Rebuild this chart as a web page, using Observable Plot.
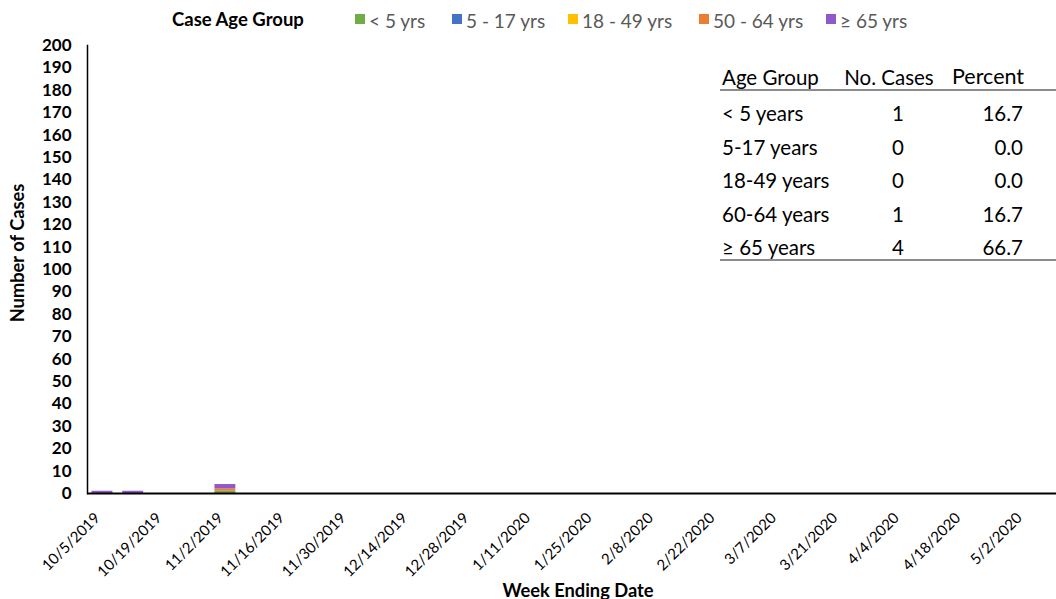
<!DOCTYPE html>
<html>
<head>
<meta charset="utf-8">
<script src="https://cdn.jsdelivr.net/npm/d3@7"></script>
<script src="https://cdn.jsdelivr.net/npm/@observablehq/plot@0.6"></script>
<style>
  html, body { margin: 0; padding: 0; background: #fff; }
  body { font-family: Lato, "Open Sans", sans-serif; width: 1056px; height: 599px; overflow: hidden; position: relative; }
  #legend { height: 30px; position: relative; }
  .abs { position: absolute; white-space: nowrap; }
  .mid { transform: translateY(-50%); line-height: 1; }
  .lg-title { font-weight: bold; font-size: 18.5px; color: #000; }
  .lg-item { font-size: 19px; color: #595959; }
  .sw { position: absolute; width: 10px; height: 10px; transform: translateY(-50%); }
  #tbl { position: absolute; left: 720px; top: 0; width: 336px; height: 300px; font-size: 20.5px; color: #000; }
  .xtitle { font-weight: bold; font-size: 18.3px; }
  .ytitle { font-weight: bold; font-size: 18.3px; transform: translate(-50%, -50%) rotate(-90deg); }
</style>
</head>
<body>
<div id="legend"></div>
<div id="chart"></div>
<div id="tbl"></div>
<script>
// Categories: week ending dates
const weeks = ["10/5/2019","10/12/2019","10/19/2019","10/26/2019","11/2/2019","11/9/2019","11/16/2019","11/23/2019","11/30/2019",
  "12/7/2019","12/14/2019","12/21/2019","12/28/2019","1/4/2020","1/11/2020","1/18/2020","1/25/2020","2/1/2020","2/8/2020",
  "2/15/2020","2/22/2020","2/29/2020","3/7/2020","3/14/2020","3/21/2020","3/28/2020","4/4/2020","4/11/2020","4/18/2020",
  "4/25/2020","5/2/2020"];
const tickWeeks = ["10/5/2019","10/19/2019","11/2/2019","11/16/2019","11/30/2019","12/14/2019","12/28/2019","1/11/2020",
  "1/25/2020","2/8/2020","2/22/2020","3/7/2020","3/21/2020","4/4/2020","4/18/2020","5/2/2020"];
const groups = ["< 5 yrs", "5 - 17 yrs", "18 - 49 yrs", "50 - 64 yrs", "≥ 65 yrs"];
const groupColors = ["#70AD47", "#4472C4", "#FFC000", "#ED7D31", "#9058C8"];
// Non-zero case counts (stack order bottom to top)
const caseWeeks  = ["10/5/2019", "10/12/2019", "11/2/2019", "11/2/2019", "11/2/2019"];
const caseGroups = ["≥ 65 yrs",  "≥ 65 yrs",   "< 5 yrs",   "50 - 64 yrs", "≥ 65 yrs"];
const caseCounts = [1, 1, 1, 1, 2];
const yTicks = [0,10,20,30,40,50,60,70,80,90,100,110,120,130,140,150,160,170,180,190,200];
// Summary table
const tableHeader = ["Age Group", "No. Cases", "Percent"];
const tableGroups = ["< 5 years", "5-17 years", "18-49 years", "60-64 years", "≥ 65 years"];
const tableCases = [1, 0, 0, 1, 4];
const tablePercent = ["16.7", "0.0", "0.0", "16.7", "66.7"];

const data = caseWeeks.map((w, i) => ({week: w, group: caseGroups[i], n: caseCounts[i]}));

// Legend
const legend = document.getElementById("legend");
const swX = [355, 452, 568, 699, 826];
const txX = [369, 466, 582, 713, 840];
legend.innerHTML = `<div class="abs lg-title mid" style="left:172px;top:19px">Case Age Group</div>` +
  groups.map((g, i) => `<span class="sw" style="left:${swX[i]}px;top:19px;background:${groupColors[i]}"></span>` +
    `<div class="abs lg-item mid" style="left:${txX[i]}px;top:20px">${g}</div>`).join("");

const plot = Plot.plot({
  width: 1056,
  height: 569,
  marginTop: 15,
  marginLeft: 87,
  marginRight: 0,
  marginBottom: 106,
  style: {fontFamily: "Lato, 'Open Sans', sans-serif", background: "#fff", overflow: "visible"},
  x: {type: "band", domain: weeks, range: [86.6, 1039.4], paddingInner: 0.32, paddingOuter: 0.16, round: false},
  y: {domain: [0, 200]},
  color: {domain: groups, range: groupColors},
  marks: [
    Plot.barY(data, Plot.stackY({x: "week", y: "n", fill: "group", order: null})),
    Plot.axisY({ticks: yTicks, tickSize: 0, tickPadding: 16, fontSize: 17, fontWeight: "bold", label: null, color: "#000"}),
    Plot.axisX({ticks: tickWeeks, tickRotate: -45, tickSize: 0, tickPadding: 22, dx: -5, fontSize: 15, label: null, color: "#000"}),
    Plot.frame({anchor: "left", stroke: "#000", strokeWidth: 1.5}),
    Plot.ruleY([0], {stroke: "#000", strokeWidth: 2})
  ]
});
document.getElementById("chart").appendChild(plot);

// Axis titles
const xt = document.createElement("div");
xt.className = "abs xtitle"; xt.textContent = "Week Ending Date";
xt.style.left = "578px"; xt.style.top = "579px"; xt.style.transform = "translateX(-50%)";
document.body.appendChild(xt);
const yt = document.createElement("div");
yt.className = "abs ytitle"; yt.textContent = "Number of Cases";
yt.style.left = "17px"; yt.style.top = "253px";
document.body.appendChild(yt);

// Table (positions relative to table box at left 720)
const tbl = document.getElementById("tbl");
const headY = 77, firstRowY = 113, rowStep = 33.5;
let html = `<div class="abs mid" style="left:2px;top:${headY}px">${tableHeader[0]}</div>
  <div class="abs" style="left:169px;top:${headY}px;transform:translate(-50%,-50%);line-height:1">${tableHeader[1]}</div>
  <div class="abs mid" style="left:232px;top:${headY}px;font-size:21.5px">${tableHeader[2]}</div>
  <div class="abs" style="left:0;width:336px;top:89px;height:0;border-top:2px solid #8c8c8c"></div>`;
tableGroups.forEach((g, i) => {
  const y = firstRowY + i * rowStep;
  html += `<div class="abs mid" style="left:2px;top:${y}px">${g}</div>
    <div class="abs" style="left:178px;top:${y}px;transform:translate(-50%,-50%);line-height:1">${tableCases[i]}</div>
    <div class="abs mid" style="right:33px;top:${y}px">${tablePercent[i]}</div>`;
});
html += `<div class="abs" style="left:0;width:336px;top:259px;height:0;border-top:2px solid #8c8c8c"></div>`;
tbl.innerHTML = html;
</script>
</body>
</html>
